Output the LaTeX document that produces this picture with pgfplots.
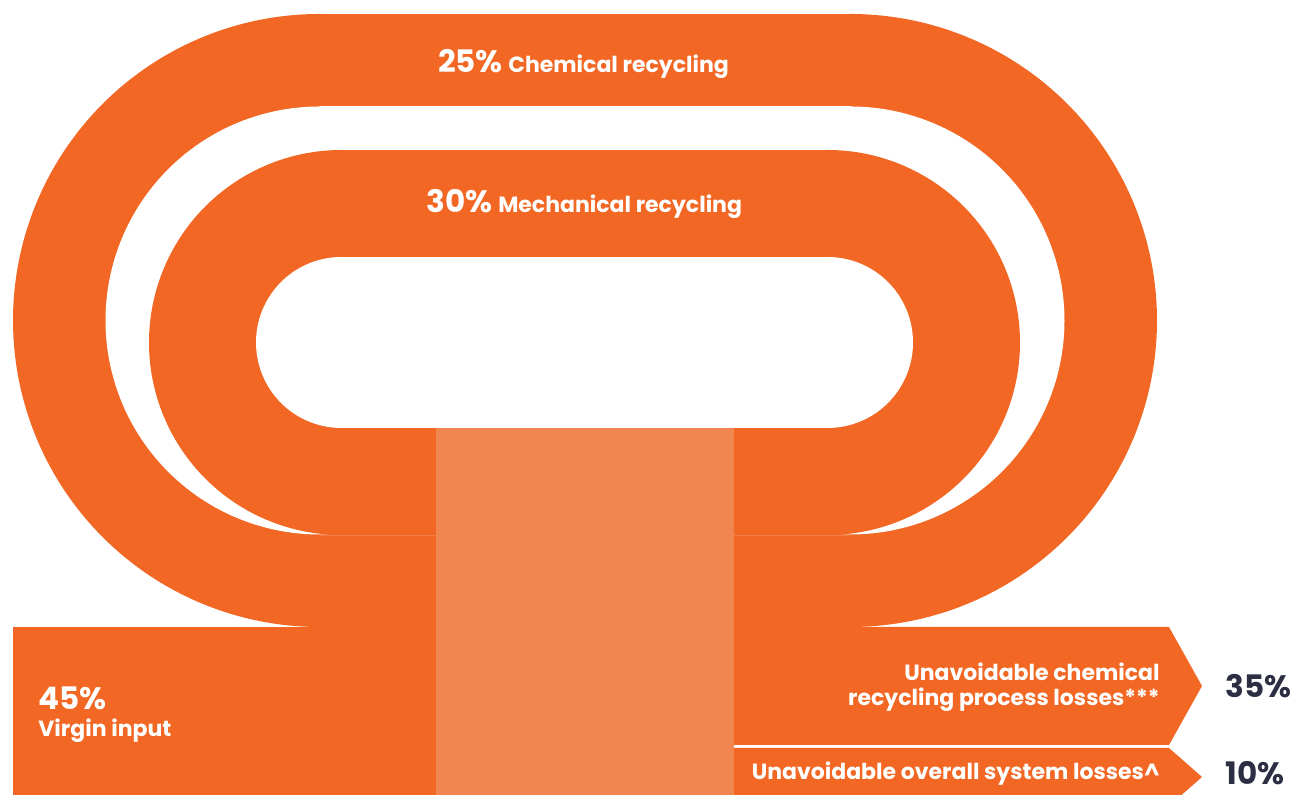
\documentclass[border=0pt]{standalone}
\usepackage{pgfplots}
\pgfplotsset{compat=1.18}
\usepackage{fontspec}
\setmainfont{Poppins}
\definecolor{org}{RGB}{242,103,35}
\definecolor{lorg}{RGB}{242,134,80}
\definecolor{navy}{RGB}{44,46,68}
\newcommand{\bigf}{\fontsize{15.5pt}{18pt}\selectfont\bfseries}
\newcommand{\sml}{\fontsize{11pt}{12.5pt}\selectfont\bfseries}
\begin{document}
\begin{tikzpicture}
\begin{axis}[x=0.5pt,y=0.5pt,xmin=0,xmax=1292,ymin=0,ymax=795,hide axis,clip=true,
  every axis plot/.append style={draw=none}]
% ---- chemical recycling loop (25%): outer band ----
\addplot[fill=org] coordinates {(319.5,168) (850.5,168) (850.5,781) (319.5,781)} -- cycle;
\addplot[fill=org,smooth,tension=0.6] coordinates {
(797.28,776.34) (850.5,781) (903.72,776.34) (955.33,762.52) (1003.75,739.94) (1047.51,709.29) (1085.29,671.51) (1115.94,627.75) (1138.52,579.33) (1152.34,527.72) (1157,474.5)
(1152.34,421.28) (1138.52,369.67) (1115.94,321.25) (1085.29,277.49) (1047.51,239.71) (1003.75,209.06) (955.33,186.48) (903.72,172.66) (850.5,168) (797.28,172.66)} -- cycle;
\addplot[fill=org,smooth,tension=0.6] coordinates {
(372.72,172.66) (319.5,168) (266.28,172.66) (214.67,186.48) (166.25,209.06) (122.49,239.71) (84.71,277.49) (54.06,321.25) (31.48,369.67) (17.66,421.28) (13,474.5)
(17.66,527.72) (31.48,579.33) (54.06,627.75) (84.71,671.51) (122.49,709.29) (166.25,739.94) (214.67,762.52) (266.28,776.34) (319.5,781) (372.72,776.34)} -- cycle;
% ---- chemical loop hole ----
\addplot[fill=white] coordinates {(319.5,260.5) (850.5,260.5) (850.5,688.5) (319.5,688.5)} -- cycle;
\addplot[fill=white,smooth,tension=0.6] coordinates {
(813.34,685.25) (850.5,688.5) (887.66,685.25) (923.69,675.59) (957.5,659.83) (988.06,638.43) (1014.43,612.06) (1035.83,581.5) (1051.59,547.69) (1061.25,511.66) (1064.5,474.5)
(1061.25,437.34) (1051.59,401.31) (1035.83,367.5) (1014.43,336.94) (988.06,310.57) (957.5,289.17) (923.69,273.41) (887.66,263.75) (850.5,260.5) (813.34,263.75)} -- cycle;
\addplot[fill=white,smooth,tension=0.6] coordinates {
(356.66,263.75) (319.5,260.5) (282.34,263.75) (246.31,273.41) (212.5,289.17) (181.94,310.57) (155.57,336.94) (134.17,367.5) (118.41,401.31) (108.75,437.34) (105.5,474.5)
(108.75,511.66) (118.41,547.69) (134.17,581.5) (155.57,612.06) (181.94,638.43) (212.5,659.83) (246.31,675.59) (282.34,685.25) (319.5,688.5) (356.66,685.25)} -- cycle;
% ---- mechanical recycling loop (30%): outer band ----
\addplot[fill=org] coordinates {(341.5,260) (827.5,260) (827.5,645) (341.5,645)} -- cycle;
\addplot[fill=org,smooth,tension=0.6] coordinates {
(794.07,642.08) (827.5,645) (860.93,642.08) (893.34,633.39) (923.75,619.21) (951.24,599.96) (974.96,576.24) (994.21,548.75) (1008.39,518.34) (1017.08,485.93) (1020,452.5)
(1017.08,419.07) (1008.39,386.66) (994.21,356.25) (974.96,328.76) (951.24,305.04) (923.75,285.79) (893.34,271.61) (860.93,262.92) (827.5,260) (794.07,262.92)} -- cycle;
\addplot[fill=org,smooth,tension=0.6] coordinates {
(374.93,262.92) (341.5,260) (308.07,262.92) (275.66,271.61) (245.25,285.79) (217.76,305.04) (194.04,328.76) (174.79,356.25) (160.61,386.66) (151.92,419.07) (149,452.5)
(151.92,485.93) (160.61,518.34) (174.79,548.75) (194.04,576.24) (217.76,599.96) (245.25,619.21) (275.66,633.39) (308.07,642.08) (341.5,645) (374.93,642.08)} -- cycle;
% ---- mechanical loop hole ----
\addplot[fill=white] coordinates {(341.5,367) (827.5,367) (827.5,538) (341.5,538)} -- cycle;
\addplot[fill=white,smooth,tension=0.6] coordinates {
(812.65,536.70) (827.5,538) (842.35,536.70) (856.74,532.84) (870.25,526.55) (882.46,518.00) (893.00,507.46) (901.55,495.25) (907.84,481.74) (911.70,467.35) (913,452.5)
(911.70,437.65) (907.84,423.26) (901.55,409.75) (893.00,397.54) (882.46,387.00) (870.25,378.45) (856.74,372.16) (842.35,368.30) (827.5,367) (812.65,368.30)} -- cycle;
\addplot[fill=white,smooth,tension=0.6] coordinates {
(356.35,368.30) (341.5,367) (326.65,368.30) (312.26,372.16) (298.75,378.45) (286.54,387.00) (276.00,397.54) (267.45,409.75) (261.16,423.26) (257.30,437.65) (256,452.5)
(257.30,467.35) (261.16,481.74) (267.45,495.25) (276.00,507.46) (286.54,518.00) (298.75,526.55) (312.26,532.84) (326.65,536.70) (341.5,538) (356.35,536.70)} -- cycle;
% seams between the two loops
\addplot[draw=lorg!70!org,line width=0.3pt] coordinates {(320,260) (436,260)};
\addplot[draw=lorg!70!org,line width=0.3pt] coordinates {(734,260) (850,260)};
% ---- virgin input 45% ----
\addplot[fill=org] coordinates {(13,0) (436,0) (436,168) (13,168)} -- cycle;
% ---- chemical recycling process losses 35% ----
\addplot[fill=org] coordinates {(734,50) (1169,50) (1202,109) (1169,168) (734,168)} -- cycle;
% ---- overall system losses 10% ----
\addplot[fill=org] coordinates {(734,0) (1181.5,0) (1202,18) (1169,47) (734,47)} -- cycle;
% ---- central process block ----
\addplot[fill=lorg] coordinates {(436,0) (734,0) (734,367) (436,367)} -- cycle;
% ---- labels ----
\node[anchor=base,text=white,inner sep=0pt] at (axis cs:583.5,722) {{\bigf 25\%} {\sml Chemical recycling}};
\node[anchor=base,text=white,inner sep=0pt] at (axis cs:584.5,582) {{\bigf 30\%} {\sml Mechanical recycling}};
\node[anchor=base west,text=white,inner sep=0pt] at (axis cs:38,85) {\bigf 45\%};
\node[anchor=base west,text=white,inner sep=0pt] at (axis cs:38,58) {\sml Virgin input};
\node[anchor=base east,text=white,inner sep=0pt] at (axis cs:1160,114) {\sml Unavoidable chemical};
\node[anchor=base east,text=white,inner sep=0pt] at (axis cs:1160,89) {\sml recycling process losses***};
\node[anchor=base east,text=white,inner sep=0pt] at (axis cs:1160,15) {\sml Unavoidable overall system losses\textasciicircum};
\node[anchor=base west,text=navy,inner sep=0pt] at (axis cs:1225,97) {\bigf 35\%};
\node[anchor=base west,text=navy,inner sep=0pt] at (axis cs:1225,10) {\bigf 10\%};
\end{axis}
\pgfresetboundingbox
\useasboundingbox (current axis.south west) rectangle (current axis.north east);
\end{tikzpicture}
\end{document}
